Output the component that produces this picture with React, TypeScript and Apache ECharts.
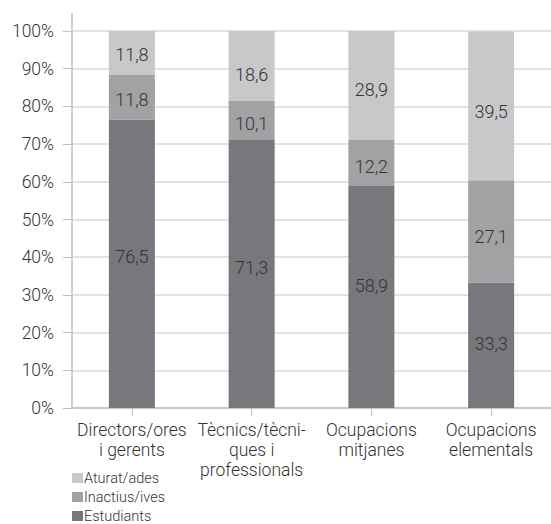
import React, { useEffect, useRef } from "react";
import * as echarts from "echarts";

// ---- data ----
const categories = [
  "Directors/ores\ni gerents",
  "Tècnics/tècni-\nques i\nprofessionals",
  "Ocupacions\nmitjanes",
  "Ocupacions\nelementals",
];
const seriesNames = ["Estudiants", "Inactius/ives", "Aturat/ades"];
const estudiants = [76.5, 71.3, 58.9, 33.3];
const inactius = [11.8, 10.1, 12.2, 27.1];
const aturat = [11.8, 18.6, 28.9, 39.5];
const yMin = 0;
const yMax = 100;
const yStep = 10;

// ---- styles ----
const FONT = "Roboto, 'Liberation Sans', Arial, sans-serif";
const WEIGHT = 300;
const TEXT = "#333333";
const colors = { est: "#78787c", ina: "#a2a2a5", atu: "#c8c8ca" };
const labelDy = {
  est: [-7, -6, -11, -2],
  ina: [2, 3, 4, 5],
  atu: [1, 8, 4, 6],
};

const fmt = (v: number) => v.toFixed(1).replace(".", ",");

function buildSeries(name: string, values: number[], color: string, dys: number[]) {
  return {
    name,
    type: "bar",
    stack: "total",
    barWidth: 46,
    itemStyle: { color },
    label: {
      show: true,
      position: "inside",
      color: TEXT,
      fontFamily: FONT,
      fontWeight: WEIGHT,
      fontSize: 18,
      formatter: (p: any) => fmt(p.value),
    },
    data: values.map((v, i) => ({ value: v, label: { offset: [0, dys[i]] } })),
  };
}

export default function App() {
  const ref = useRef<HTMLDivElement>(null);
  useEffect(() => {
    if (!ref.current) return;
    const chart = echarts.init(ref.current, null, { renderer: "svg" });
    chart.setOption({
      animation: false,
      backgroundColor: "#ffffff",
      grid: { left: 72, top: 31, width: 484, height: 377, containLabel: false },
      legend: {
        orient: "vertical",
        left: 72,
        top: 470,
        height: 60,
        padding: 0,
        itemGap: 3,
        itemWidth: 11,
        itemHeight: 10,
        icon: "rect",
        data: ["Aturat/ades", "Inactius/ives", "Estudiants"],
        textStyle: {
          color: TEXT,
          fontFamily: FONT,
          fontWeight: WEIGHT,
          fontSize: 14.5,
          lineHeight: 16,
          padding: [0, 0, 0, -4],
        },
      },
      xAxis: {
        type: "category",
        data: categories,
        axisLine: { show: true, lineStyle: { color: "#bfbfbf", width: 1.5 } },
        axisTick: { show: true, alignWithLabel: true, length: 8, lineStyle: { color: "#bfbfbf" } },
        axisLabel: {
          interval: 0,
          margin: 12,
          color: TEXT,
          fontFamily: FONT,
          fontWeight: WEIGHT,
          fontSize: 17.5,
          lineHeight: 20,
        },
      },
      yAxis: {
        type: "value",
        min: yMin,
        max: yMax,
        interval: yStep,
        axisLine: { show: true, lineStyle: { color: "#bfbfbf", width: 1.5 } },
        axisTick: { show: true, length: 9, lineStyle: { color: "#bfbfbf" } },
        splitLine: { show: true, lineStyle: { color: "#d9d9d9", width: 1.5 } },
        axisLabel: {
          margin: 18,
          color: TEXT,
          fontFamily: FONT,
          fontWeight: WEIGHT,
          fontSize: 17.5,
          formatter: "{value}%",
        },
      },
      graphic: [
        {
          type: "line",
          shape: { x1: 72, y1: 13, x2: 72, y2: 31 },
          style: { stroke: "#bfbfbf", lineWidth: 1.5 },
        },
      ],
      series: [
        buildSeries(seriesNames[0], estudiants, colors.est, labelDy.est),
        buildSeries(seriesNames[1], inactius, colors.ina, labelDy.ina),
        buildSeries(seriesNames[2], aturat, colors.atu, labelDy.atu),
      ],
    });
    return () => chart.dispose();
  }, []);
  return (
    <div
      ref={ref}
      style={{ position: "fixed", left: 0, top: 0, width: 551, height: 524, background: "#fff" }}
    />
  );
}
